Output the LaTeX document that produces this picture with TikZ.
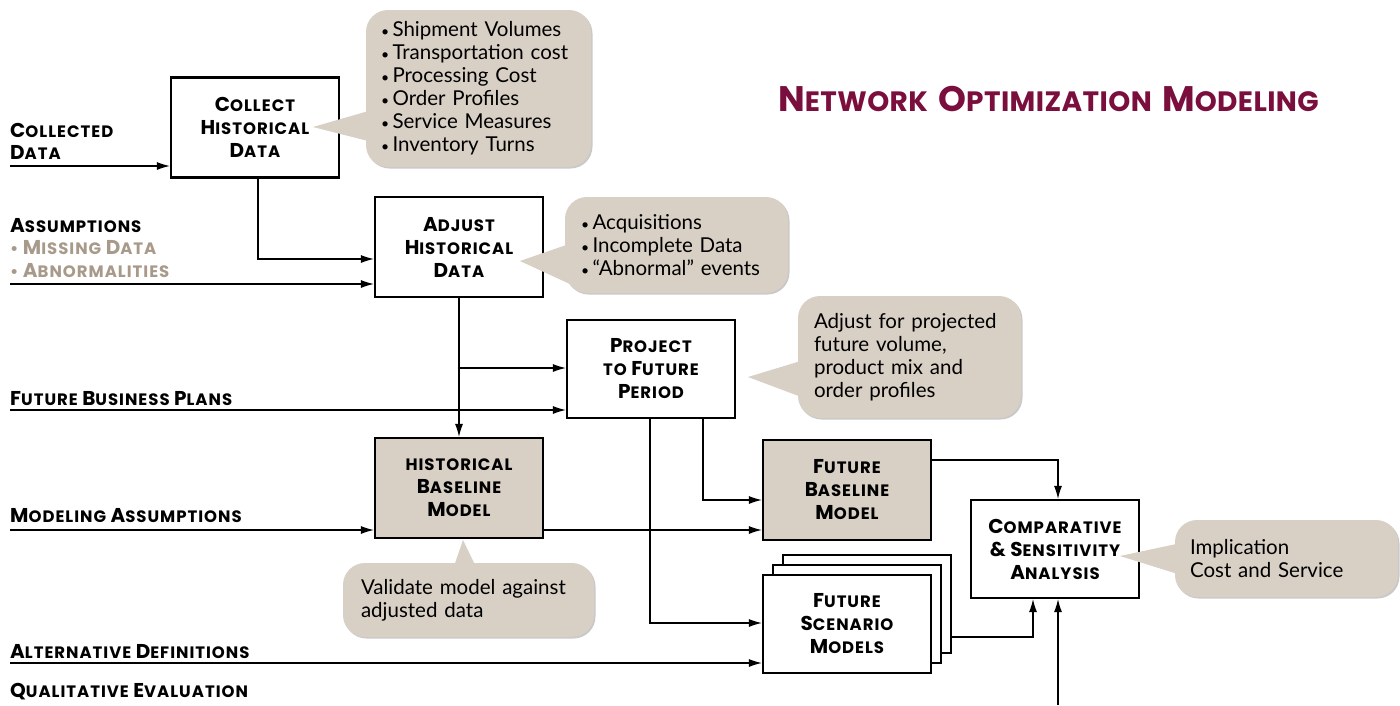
\documentclass[tikz,border=0pt]{standalone}
\usepackage{fontspec}
\setmainfont{Lato}
\newfontfamily\capsfont{Poppins}[LetterSpace=6]
\newfontfamily\titlefont{Poppins}[LetterSpace=1.5]
\usetikzlibrary{shadows,arrows.meta,calc}
\definecolor{callfill}{HTML}{D8CFC5}
\definecolor{boxfill}{HTML}{D8CFC5}
\definecolor{tancol}{HTML}{A89A8A}
\definecolor{maroon}{HTML}{7A0E3C}
\newcommand\BL[1]{{\fontsize{20}{20}\selectfont #1}}
\newcommand\LL[1]{{\fontsize{20}{20}\selectfont #1}}
\newcommand\TL[1]{{\fontsize{35.5}{35.5}\selectfont #1}}
\newcommand\bu{{\fontsize{14}{14}\selectfont •}\,}
\tikzset{
  box/.style={draw, line width=2.2pt, minimum width=168pt, minimum height=100pt, align=center,
    font=\capsfont\bfseries\fontsize{16.5}{23}\selectfont, inner sep=0pt, fill=white},
  shaded/.style={box, fill=boxfill},
  callout/.style={fill=callfill, rounded corners=22pt, align=left, font=\fontsize{20.5}{23}\selectfont,
    inner xsep=16pt, inner ysep=0pt,
    drop shadow={shadow xshift=1.5pt, shadow yshift=-1.5pt, opacity=0.3, fill=black!70}},
  ptr/.style={fill=callfill},
  lbl/.style={anchor=base west, font=\capsfont\bfseries\fontsize{16.5}{16.5}\selectfont, inner sep=0pt},
  arr/.style={-{Latex[length=13pt,width=8pt]}, line width=1.1pt}
}
\begin{document}
\begin{tikzpicture}[x=1pt,y=-1pt]
\useasboundingbox (0,0) rectangle (1400,705);

% title
\node[anchor=base west, inner sep=0pt, text=maroon, font=\titlefont\bfseries\fontsize{28}{28}\selectfont] (title) at (778,111)
  {\TL{N}ETWORK\hspace{4pt} \TL{O}PTIMIZATION\hspace{4pt} \TL{M}ODELING};

% process boxes
\node[box] (B1) at (255,127.5) {\BL{C}OLLECT\\\BL{H}ISTORICAL\\\BL{D}ATA};
\node[box] (B2) at (459,247) {\BL{A}DJUST\\\BL{H}ISTORICAL\\\BL{D}ATA};
\node[box, minimum height=98pt] (B3) at (651,369) {\BL{P}ROJECT\\TO \BL{F}UTURE\\\BL{P}ERIOD};
\node[shaded] (B4) at (459,488) {HISTORICAL\\\BL{B}ASELINE\\\BL{M}ODEL};
\node[shaded] (B5) at (847,490) {\BL{F}UTURE\\\BL{B}ASELINE\\\BL{M}ODEL};
\node[box, minimum height=98pt] (B6c) at (867,604) {};
\node[box, minimum height=98pt] (B6b) at (857,614) {};
\node[box, minimum height=98pt] (B6) at (847,624) {\BL{F}UTURE\\\BL{S}CENARIO\\\BL{M}ODELS};
\node[box, minimum height=98pt] (B7) at (1055,549) {\BL{C}OMPARATIVE\\\BL{\&} \BL{S}ENSITIVITY\\\BL{A}NALYSIS};

% left labels
\node[lbl] (lCa) at (10,137.5) {\LL{C}OLLECTED};
\node[lbl] (lCb) at (10,159.5) {\LL{D}ATA};
\node[lbl] (lAa) at (10,232) {\LL{A}SSUMPTIONS};
\node[lbl, text=tancol] (lAb) at (10,254.5) {• \LL{M}ISSING \LL{D}ATA};
\node[lbl, text=tancol] (lAc) at (10,277) {• \LL{A}BNORMALITIES};
\node[lbl] (lF) at (10,405) {\LL{F}UTURE \LL{B}USINESS \LL{P}LANS};
\node[lbl] (lM) at (10,522) {\LL{M}ODELING \LL{A}SSUMPTIONS};
\node[lbl] (lAD) at (10,658) {\LL{A}LTERNATIVE \LL{D}EFINITIONS};
\node[lbl] (lQ) at (10,697) {\LL{Q}UALITATIVE \LL{E}VALUATION};

% free ends
\coordinate (inCD) at (10,166);
\coordinate (inAS) at (10,284);
\coordinate (inFB) at (10,410);
\coordinate (inMA) at (10,530);
\coordinate (inAD) at (10,663);
\coordinate (inQE) at (1058,705);
\coordinate (br1) at (459,368);

% connectors
\draw[arr] (inCD) -- (inCD -| B1.west);
\draw[arr] ([xshift=3pt]B1.south) |- ([yshift=-12pt]B2.west);
\draw[arr] (inAS) -- (inAS -| B2.west);
\draw[arr] (B2.south) -- (B4.north);
\draw[arr] (br1) -- (br1 -| B3.west);
\draw[arr] (inFB) -- (inFB -| B3.west);
\draw[arr] (inMA) -- (inMA -| B4.west);
\draw[arr] ([yshift=-42pt]B4.east) -- ([yshift=-42pt]B4.east -| B5.west);
\draw[arr] ([xshift=52pt]B3.south) |- ([yshift=-10pt]B5.west);
\draw[arr] ([xshift=-1pt]B3.south) |- ([yshift=1pt]B6.west);
\draw[arr] (inAD) -- (inAD -| B6.west);
\draw[arr] ([yshift=30pt]B5.east) -| ([xshift=3pt]B7.north);
\draw[arr] ([yshift=-33pt]B6c.east) -| ([xshift=-22pt]B7.south);
\draw[arr] (inQE) -- (inQE |- B7.south);

% callouts
\node[callout, text width=195pt, inner xsep=15pt, minimum height=157pt] (C1) at (478.5,88.5)
  {\bu Shipment Volumes\\\bu Transportation cost\\\bu Processing Cost\\\bu Order Profiles\\\bu Service Measures\\\bu Inventory Turns};
\fill[ptr] (313,127) -- (372,110) -- (372,142) -- cycle;

\node[callout, text width=191pt, minimum height=96pt] (C2) at (676.5,245)
  {\bu Acquisitions\\\bu Incomplete Data\\\bu “Abnormal” events};
\fill[ptr] (520,261) -- (572,243) -- (572,285) -- cycle;

\node[callout, text width=191pt, minimum height=122pt] (C3) at (909.5,357)
  {Adjust for projected\\future volume,\\product mix and\\order profiles};
\fill[ptr] (748,377) -- (804,360) -- (804,398) -- cycle;

\node[callout, text width=215pt, inner xsep=18pt, minimum height=74pt] (C4) at (468.5,600)
  {Validate model against\\adjusted data};
\fill[ptr] (463,540) -- (453,569) -- (477,569) -- cycle;

\node[callout, text width=193pt, inner xsep=15pt, minimum height=77pt] (C5) at (1286.5,558.5)
  {Implication\\Cost and Service};
\fill[ptr] (1120,556) -- (1181,543) -- (1181,575) -- cycle;
\end{tikzpicture}
\end{document}
